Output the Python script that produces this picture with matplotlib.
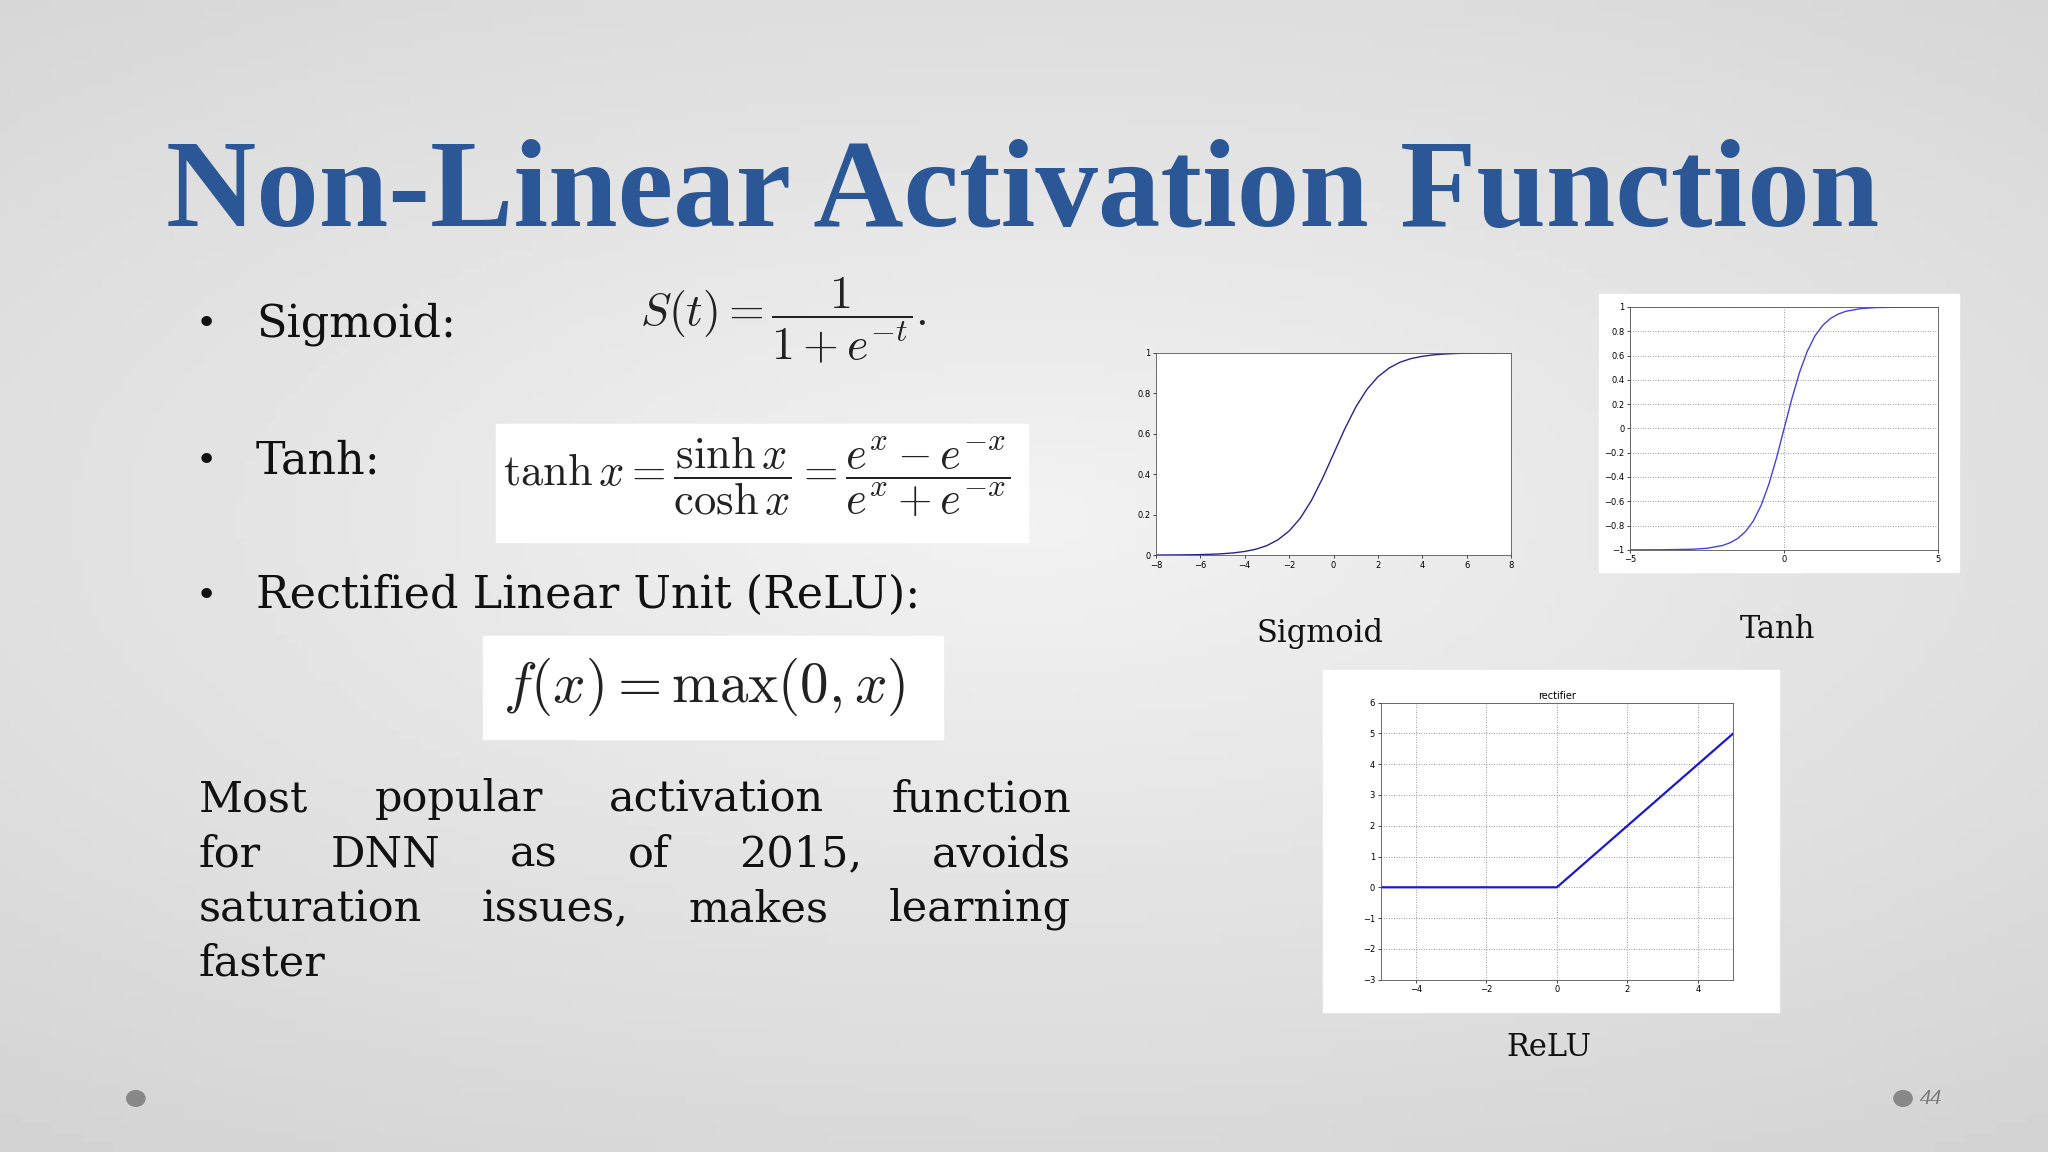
import matplotlib.pyplot as plt
import numpy as np

W, H = 1568.0, 882.0  # layout measured on the reference at this size

title = "Non-Linear Activation Function"
bullets = ["Sigmoid:", "Tanh:", "Rectified Linear Unit (ReLU):"]
para = ["Most popular activation function", "for DNN as of 2015, avoids",
        "saturation issues, makes learning", "faster"]

sig_x = [-8, -7.5, -7, -6.5, -6, -5.5, -5, -4.5, -4, -3.5, -3, -2.5, -2, -1.5, -1, -0.5, 0,
         0.5, 1, 1.5, 2, 2.5, 3, 3.5, 4, 4.5, 5, 5.5, 6, 6.5, 7, 7.5, 8]
sig_y = [0.0003, 0.0006, 0.0009, 0.0015, 0.0025, 0.0041, 0.0067, 0.011, 0.018, 0.029, 0.047,
         0.076, 0.119, 0.182, 0.269, 0.378, 0.5, 0.622, 0.731, 0.818, 0.881, 0.924, 0.953,
         0.971, 0.982, 0.989, 0.9933, 0.9959, 0.9975, 0.9985, 0.9991, 0.9994, 0.9997]

tanh_x = [-5, -4, -3, -2.5, -2, -1.75, -1.5, -1.25, -1, -0.75, -0.5, -0.25, 0,
          0.25, 0.5, 0.75, 1, 1.25, 1.5, 1.75, 2, 2.5, 3, 4, 5]
tanh_y = [-0.9999, -0.9993, -0.995, -0.987, -0.964, -0.941, -0.905, -0.848, -0.762, -0.635,
          -0.462, -0.245, 0, 0.245, 0.462, 0.635, 0.762, 0.848, 0.905, 0.941, 0.964, 0.987,
          0.995, 0.9993, 0.9999]

relu_x = [-5, 0, 5]
relu_y = [0, 0, 5]

BLUE = "#2f2fc0"
SERIF = "Liberation Serif"
BODY = "DejaVu Serif"


def fx(x):
    return x / W


def fy(y):
    return 1 - y / H


def box(x0, y0, x1, y1):
    return [fx(x0), fy(y1), fx(x1) - fx(x0), fy(y0) - fy(y1)]


fig = plt.figure(figsize=(20.48, 11.52), dpi=100)

# background gradient
bg = fig.add_axes([0, 0, 1, 1])
gx, gy = np.meshgrid(np.linspace(-1, 1, 200), np.linspace(-1, 1, 120))
r = np.sqrt((gx * 0.8) ** 2 + (gy + 0.1) ** 2)
bg.imshow(0.95 - 0.09 * r, cmap="gray", vmin=0, vmax=1, aspect="auto", extent=[0, 1, 0, 1])
bg.set_xlim(0, 1)
bg.set_ylim(0, 1)
bg.axis("off")

fig.text(fx(783), fy(150), title, ha="center", va="center", fontsize=90,
         color="#2b5797", family=SERIF, weight="bold")

for txt, y in zip(bullets, [248, 353, 456]):
    fig.text(fx(150), fy(y), "\u2022", ha="left", va="center", fontsize=26, color="#111111")
    fig.text(fx(196), fy(y), txt, ha="left", va="center", fontsize=32,
             color="#111111", family=BODY)

fig.text(fx(490), fy(245), r"$S(t)=\dfrac{1}{1+e^{-t}}.$", ha="left", va="center",
         fontsize=33, color="#222222", math_fontfamily="cm")

# white boxes behind formulas
for b in [(380, 325, 787, 415), (370, 487, 722, 566)]:
    bg.add_patch(plt.Rectangle((fx(b[0]), fy(b[3])), fx(b[2]) - fx(b[0]), fy(b[1]) - fy(b[3]),
                               color="white", zorder=2))
fig.text(fx(385), fy(365), r"$\tanh x=\dfrac{\sinh x}{\cosh x}=\dfrac{e^x-e^{-x}}{e^x+e^{-x}}$",
         ha="left", va="center", fontsize=32, color="#222222", math_fontfamily="cm")
fig.text(fx(385), fy(526), r"$f(x)=\max(0,x)$", ha="left", va="center",
         fontsize=41, color="#222222", math_fontfamily="cm")

# justified paragraph
fig.canvas.draw()
rend = fig.canvas.get_renderer()
left, right = fx(152), fx(820)
for i, line in enumerate(para):
    words = line.split()
    y = fy(612 + i * 42)
    if i == len(para) - 1:
        fig.text(left, y, line, ha="left", va="center", fontsize=31,
                 color="#111111", family=BODY)
        continue
    ts = [fig.text(0, y, w, ha="left", va="center", fontsize=31, color="#111111",
                   family=BODY) for w in words]
    widths = [t.get_window_extent(rend).width / fig.bbox.width for t in ts]
    gap = (right - left - sum(widths)) / (len(words) - 1)
    x = left
    for t, w in zip(ts, widths):
        t.set_x(x)
        x += w + gap

# white panels for tanh and relu
for b in [(1224, 225, 1500, 438), (1013, 513, 1362, 775)]:
    bg.add_patch(plt.Rectangle((fx(b[0]), fy(b[3])), fx(b[2]) - fx(b[0]), fy(b[1]) - fy(b[3]),
                               color="white", zorder=2))


def style(ax):
    ax.tick_params(labelsize=6, length=2, width=0.5, pad=2)
    for s in ax.spines.values():
        s.set_linewidth(0.6)
        s.set_color("#555555")


ax1 = fig.add_axes(box(885, 270, 1157, 425))
ax1.plot(sig_x, sig_y, color="#252590", lw=1.0)
ax1.set_xlim(-8, 8)
ax1.set_ylim(0, 1)
ax1.set_xticks(range(-8, 9, 2))
ax1.set_yticks([0, 0.2, 0.4, 0.6, 0.8, 1])
ax1.set_yticklabels(["0", "0.2", "0.4", "0.6", "0.8", "1"])
style(ax1)

ax2 = fig.add_axes(box(1248, 235, 1484, 421))
ax2.plot(tanh_x, tanh_y, color="#4444dd", lw=1.0)
ax2.set_xlim(-5, 5)
ax2.set_ylim(-1, 1)
ax2.set_xticks([-5, 0, 5])
yt = [-1, -0.8, -0.6, -0.4, -0.2, 0, 0.2, 0.4, 0.6, 0.8, 1]
ax2.set_yticks(yt)
ax2.set_yticklabels(["\u22121", "\u22120.8", "\u22120.6", "\u22120.4", "\u22120.2", "0",
                     "0.2", "0.4", "0.6", "0.8", "1"])
ax2.grid(True, ls=(0, (1, 2)), lw=0.6, color="#777777")
style(ax2)

ax3 = fig.add_axes(box(1057, 538, 1327, 750))
ax3.plot(relu_x, relu_y, color="#1a1acc", lw=1.6)
ax3.set_xlim(-5, 5)
ax3.set_ylim(-3, 6)
ax3.set_xticks([-4, -2, 0, 2, 4])
ax3.set_yticks(range(-3, 7))
ax3.grid(True, ls=(0, (1, 2)), lw=0.6, color="#777777")
ax3.set_title("rectifier", fontsize=7, pad=3)
style(ax3)

for txt, x, y in [("Sigmoid", 1011, 485), ("Tanh", 1361, 482), ("ReLU", 1186, 802)]:
    fig.text(fx(x), fy(y), txt, ha="center", va="center", fontsize=22,
             color="#111111", family=BODY)

for x in [104, 1457]:
    bg.add_patch(plt.matplotlib.patches.Ellipse((fx(x), fy(841)), fx(14), 12 / H,
                                                color="#888888", zorder=3))
fig.text(fx(1470), fy(842), "44", ha="left", va="center", fontsize=16,
         style="italic", color="#777777", family=SERIF)

fig.savefig("out.png", dpi=100)
